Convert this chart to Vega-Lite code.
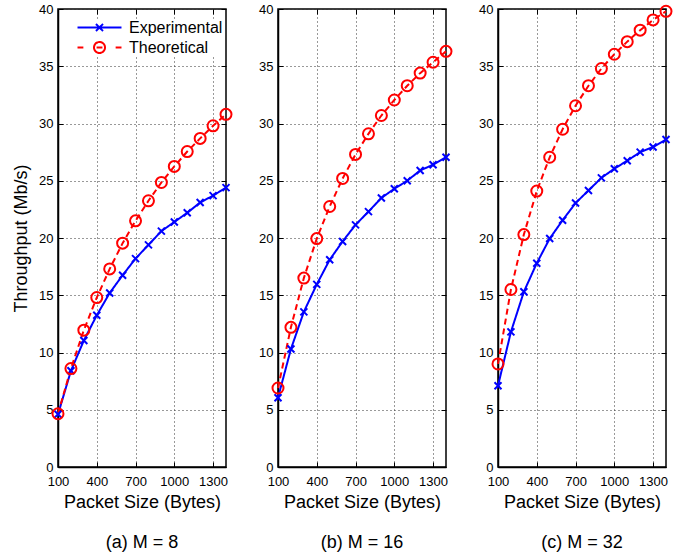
{
  "$schema": "https://vega.github.io/schema/vega-lite/v6.json",
  "padding": {"left": 11, "top": 1, "right": 0, "bottom": 0},
  "background": "white",
  "datasets": {
    "d": [
      {"p":"a","s":"Experimental","x":100,"y":4.6},{"p":"a","s":"Experimental","x":200,"y":8.4},{"p":"a","s":"Experimental","x":300,"y":11.05},{"p":"a","s":"Experimental","x":400,"y":13.25},{"p":"a","s":"Experimental","x":500,"y":15.2},{"p":"a","s":"Experimental","x":600,"y":16.75},{"p":"a","s":"Experimental","x":700,"y":18.2},{"p":"a","s":"Experimental","x":800,"y":19.4},{"p":"a","s":"Experimental","x":900,"y":20.6},{"p":"a","s":"Experimental","x":1000,"y":21.4},{"p":"a","s":"Experimental","x":1100,"y":22.2},{"p":"a","s":"Experimental","x":1200,"y":23.1},{"p":"a","s":"Experimental","x":1300,"y":23.7},{"p":"a","s":"Experimental","x":1400,"y":24.4},
      {"p":"a","s":"Theoretical","x":100,"y":4.65},{"p":"a","s":"Theoretical","x":200,"y":8.6},{"p":"a","s":"Theoretical","x":300,"y":11.95},{"p":"a","s":"Theoretical","x":400,"y":14.8},{"p":"a","s":"Theoretical","x":500,"y":17.3},{"p":"a","s":"Theoretical","x":600,"y":19.55},{"p":"a","s":"Theoretical","x":700,"y":21.5},{"p":"a","s":"Theoretical","x":800,"y":23.25},{"p":"a","s":"Theoretical","x":900,"y":24.85},{"p":"a","s":"Theoretical","x":1000,"y":26.25},{"p":"a","s":"Theoretical","x":1100,"y":27.55},{"p":"a","s":"Theoretical","x":1200,"y":28.7},{"p":"a","s":"Theoretical","x":1300,"y":29.8},{"p":"a","s":"Theoretical","x":1400,"y":30.8},
      {"p":"b","s":"Experimental","x":100,"y":6.05},{"p":"b","s":"Experimental","x":200,"y":10.3},{"p":"b","s":"Experimental","x":300,"y":13.55},{"p":"b","s":"Experimental","x":400,"y":15.95},{"p":"b","s":"Experimental","x":500,"y":18.1},{"p":"b","s":"Experimental","x":600,"y":19.7},{"p":"b","s":"Experimental","x":700,"y":21.15},{"p":"b","s":"Experimental","x":800,"y":22.3},{"p":"b","s":"Experimental","x":900,"y":23.5},{"p":"b","s":"Experimental","x":1000,"y":24.3},{"p":"b","s":"Experimental","x":1100,"y":25.0},{"p":"b","s":"Experimental","x":1200,"y":25.9},{"p":"b","s":"Experimental","x":1300,"y":26.4},{"p":"b","s":"Experimental","x":1400,"y":27.05},
      {"p":"b","s":"Theoretical","x":100,"y":6.9},{"p":"b","s":"Theoretical","x":200,"y":12.2},{"p":"b","s":"Theoretical","x":300,"y":16.5},{"p":"b","s":"Theoretical","x":400,"y":19.95},{"p":"b","s":"Theoretical","x":500,"y":22.75},{"p":"b","s":"Theoretical","x":600,"y":25.2},{"p":"b","s":"Theoretical","x":700,"y":27.3},{"p":"b","s":"Theoretical","x":800,"y":29.1},{"p":"b","s":"Theoretical","x":900,"y":30.7},{"p":"b","s":"Theoretical","x":1000,"y":32.05},{"p":"b","s":"Theoretical","x":1100,"y":33.3},{"p":"b","s":"Theoretical","x":1200,"y":34.4},{"p":"b","s":"Theoretical","x":1300,"y":35.35},{"p":"b","s":"Theoretical","x":1400,"y":36.3},
      {"p":"c","s":"Experimental","x":100,"y":7.1},{"p":"c","s":"Experimental","x":200,"y":11.8},{"p":"c","s":"Experimental","x":300,"y":15.3},{"p":"c","s":"Experimental","x":400,"y":17.8},{"p":"c","s":"Experimental","x":500,"y":19.95},{"p":"c","s":"Experimental","x":600,"y":21.55},{"p":"c","s":"Experimental","x":700,"y":23.05},{"p":"c","s":"Experimental","x":800,"y":24.15},{"p":"c","s":"Experimental","x":900,"y":25.25},{"p":"c","s":"Experimental","x":1000,"y":26.05},{"p":"c","s":"Experimental","x":1100,"y":26.75},{"p":"c","s":"Experimental","x":1200,"y":27.5},{"p":"c","s":"Experimental","x":1300,"y":27.95},{"p":"c","s":"Experimental","x":1400,"y":28.6},
      {"p":"c","s":"Theoretical","x":100,"y":9.0},{"p":"c","s":"Theoretical","x":200,"y":15.5},{"p":"c","s":"Theoretical","x":300,"y":20.3},{"p":"c","s":"Theoretical","x":400,"y":24.1},{"p":"c","s":"Theoretical","x":500,"y":27.05},{"p":"c","s":"Theoretical","x":600,"y":29.5},{"p":"c","s":"Theoretical","x":700,"y":31.55},{"p":"c","s":"Theoretical","x":800,"y":33.3},{"p":"c","s":"Theoretical","x":900,"y":34.8},{"p":"c","s":"Theoretical","x":1000,"y":36.05},{"p":"c","s":"Theoretical","x":1100,"y":37.15},{"p":"c","s":"Theoretical","x":1200,"y":38.15},{"p":"c","s":"Theoretical","x":1300,"y":39.05},{"p":"c","s":"Theoretical","x":1400,"y":39.8}
    ]
  },
  "spacing": 20,
  "resolve": {"legend": {"color": "independent"}},
  "hconcat": [
    {
      "width": 168, "height": 458,
      "title": {"text": "(a) M = 8", "orient": "bottom", "frame": "group", "anchor": "middle", "offset": 23},
      "data": {"name": "d"},
      "transform": [{"filter": "datum.p === 'a'"}],
      "resolve": {"axis": {"x": "independent", "y": "independent"}},
      "layer": [
        {
          "mark": {"type": "line", "strokeWidth": 2},
          "encoding": {
            "x": {"field": "x", "type": "quantitative", "scale": {"domain": [100, 1400], "nice": false}, "axis": {"values": [100, 400, 700, 1000, 1300], "format": "d", "title": "Packet Size (Bytes)"}},
            "y": {"field": "y", "type": "quantitative", "scale": {"domain": [0, 40], "nice": false}, "axis": {"values": [0,5,10,15,20,25,30,35,40], "title": "Throughput (Mb/s)", "titlePadding": 8}},
            "color": {"field": "s", "type": "nominal", "scale": {"domain": ["Experimental", "Theoretical"], "range": ["#0000ff", "#ff0000"]},
              "legend": {"orient": "none", "legendX": 33, "legendY": 10, "title": null, "padding": 0, "symbolSize": 215, "labelOffset": 21, "rowPadding": 2, "labelFontSize": 16, "labelFont": "Liberation Sans", "labelColor": "black", "fillColor": "white",
                "encode": {"symbols": {"update": {
                  "shape": {"signal": "datum.value === 'Experimental' ? 'M-3,0L3,0M-0.48,-0.48L0.48,0.48M-0.48,0.48L0.48,-0.48' : 'M-3,0L-2.2,0M2.2,0L3,0M-0.75,0A0.75,0.75,0,1,0,0.75,0A0.75,0.75,0,1,0,-0.75,0M-0.4,0L0.4,0'"},
                  "strokeWidth": {"value": 2}, "fill": {"value": "transparent"}, "opacity": {"value": 1}, "strokeDash": {"value": [1, 0]}}}}}},
            "strokeDash": {"field": "s", "type": "nominal", "scale": {"domain": ["Experimental", "Theoretical"], "range": [[1, 0], [6, 4]]}, "legend": null}
          }
        },
        {
          "mark": {"type": "point", "filled": false, "strokeWidth": 2, "opacity": 1},
          "encoding": {
            "x": {"field": "x", "type": "quantitative", "axis": {"orient": "top", "values": [100, 400, 700, 1000, 1300], "labels": false, "grid": false, "domain": false, "title": null}},
            "y": {"field": "y", "type": "quantitative", "axis": {"orient": "right", "values": [0,5,10,15,20,25,30,35,40], "labels": false, "grid": false, "domain": false, "title": null}},
            "color": {"field": "s", "type": "nominal", "legend": null},
            "shape": {"field": "s", "type": "nominal", "scale": {"domain": ["Experimental", "Theoretical"], "range": ["M-1,-1L1,1M-1,1L1,-1", "circle"]}, "legend": null},
            "size": {"field": "s", "type": "nominal", "scale": {"domain": ["Experimental", "Theoretical"], "range": [49, 121]}, "legend": null}
          }
        }
      ]
    },
    {
      "width": 168, "height": 458,
      "title": {"text": "(b) M = 16", "orient": "bottom", "frame": "group", "anchor": "middle", "offset": 23},
      "data": {"name": "d"},
      "transform": [{"filter": "datum.p === 'b'"}],
      "resolve": {"axis": {"x": "independent", "y": "independent"}},
      "layer": [
        {
          "mark": {"type": "line", "strokeWidth": 2},
          "encoding": {
            "x": {"field": "x", "type": "quantitative", "scale": {"domain": [100, 1400], "nice": false}, "axis": {"values": [100, 400, 700, 1000, 1300], "format": "d", "title": "Packet Size (Bytes)"}},
            "y": {"field": "y", "type": "quantitative", "scale": {"domain": [0, 40], "nice": false}, "axis": {"values": [0,5,10,15,20,25,30,35,40], "title": null}},
            "color": {"field": "s", "type": "nominal", "scale": {"domain": ["Experimental", "Theoretical"], "range": ["#0000ff", "#ff0000"]}, "legend": null},
            "strokeDash": {"field": "s", "type": "nominal", "scale": {"domain": ["Experimental", "Theoretical"], "range": [[1, 0], [6, 4]]}, "legend": null}
          }
        },
        {
          "mark": {"type": "point", "filled": false, "strokeWidth": 2, "opacity": 1},
          "encoding": {
            "x": {"field": "x", "type": "quantitative", "axis": {"orient": "top", "values": [100, 400, 700, 1000, 1300], "labels": false, "grid": false, "domain": false, "title": null}},
            "y": {"field": "y", "type": "quantitative", "axis": {"orient": "right", "values": [0,5,10,15,20,25,30,35,40], "labels": false, "grid": false, "domain": false, "title": null}},
            "color": {"field": "s", "type": "nominal", "legend": null},
            "shape": {"field": "s", "type": "nominal", "scale": {"domain": ["Experimental", "Theoretical"], "range": ["M-1,-1L1,1M-1,1L1,-1", "circle"]}, "legend": null},
            "size": {"field": "s", "type": "nominal", "scale": {"domain": ["Experimental", "Theoretical"], "range": [49, 121]}, "legend": null}
          }
        }
      ]
    },
    {
      "width": 168, "height": 458,
      "title": {"text": "(c) M = 32", "orient": "bottom", "frame": "group", "anchor": "middle", "offset": 23},
      "data": {"name": "d"},
      "transform": [{"filter": "datum.p === 'c'"}],
      "resolve": {"axis": {"x": "independent", "y": "independent"}},
      "layer": [
        {
          "mark": {"type": "line", "strokeWidth": 2},
          "encoding": {
            "x": {"field": "x", "type": "quantitative", "scale": {"domain": [100, 1400], "nice": false}, "axis": {"values": [100, 400, 700, 1000, 1300], "format": "d", "title": "Packet Size (Bytes)"}},
            "y": {"field": "y", "type": "quantitative", "scale": {"domain": [0, 40], "nice": false}, "axis": {"values": [0,5,10,15,20,25,30,35,40], "title": null}},
            "color": {"field": "s", "type": "nominal", "scale": {"domain": ["Experimental", "Theoretical"], "range": ["#0000ff", "#ff0000"]}, "legend": null},
            "strokeDash": {"field": "s", "type": "nominal", "scale": {"domain": ["Experimental", "Theoretical"], "range": [[1, 0], [6, 4]]}, "legend": null}
          }
        },
        {
          "mark": {"type": "point", "filled": false, "strokeWidth": 2, "opacity": 1},
          "encoding": {
            "x": {"field": "x", "type": "quantitative", "axis": {"orient": "top", "values": [100, 400, 700, 1000, 1300], "labels": false, "grid": false, "domain": false, "title": null}},
            "y": {"field": "y", "type": "quantitative", "axis": {"orient": "right", "values": [0,5,10,15,20,25,30,35,40], "labels": false, "grid": false, "domain": false, "title": null}},
            "color": {"field": "s", "type": "nominal", "legend": null},
            "shape": {"field": "s", "type": "nominal", "scale": {"domain": ["Experimental", "Theoretical"], "range": ["M-1,-1L1,1M-1,1L1,-1", "circle"]}, "legend": null},
            "size": {"field": "s", "type": "nominal", "scale": {"domain": ["Experimental", "Theoretical"], "range": [49, 121]}, "legend": null}
          }
        }
      ]
    }
  ],
  "config": {
    "font": "Liberation Sans",
    "view": {"stroke": "black", "strokeWidth": 1.5},
    "axis": {
      "labelFont": "Liberation Sans", "labelFontSize": 13, "labelColor": "black",
      "titleFont": "Liberation Sans", "titleFontSize": 18, "titleFontWeight": "normal", "titleColor": "black",
      "grid": true, "gridColor": "#333333", "gridDash": [1, 3], "gridOpacity": 1, "gridWidth": 1,
      "domain": true, "domainColor": "black", "domainWidth": 1.5,
      "tickColor": "black", "tickSize": -5, "tickWidth": 1,
      "titlePadding": 5
    },
    "axisX": {"labelFlush": false, "labelPadding": 13},
    "axisY": {"labelPadding": 10},
    "title": {"font": "Liberation Sans", "fontSize": 18, "fontWeight": "normal", "color": "black"}
  }
}
